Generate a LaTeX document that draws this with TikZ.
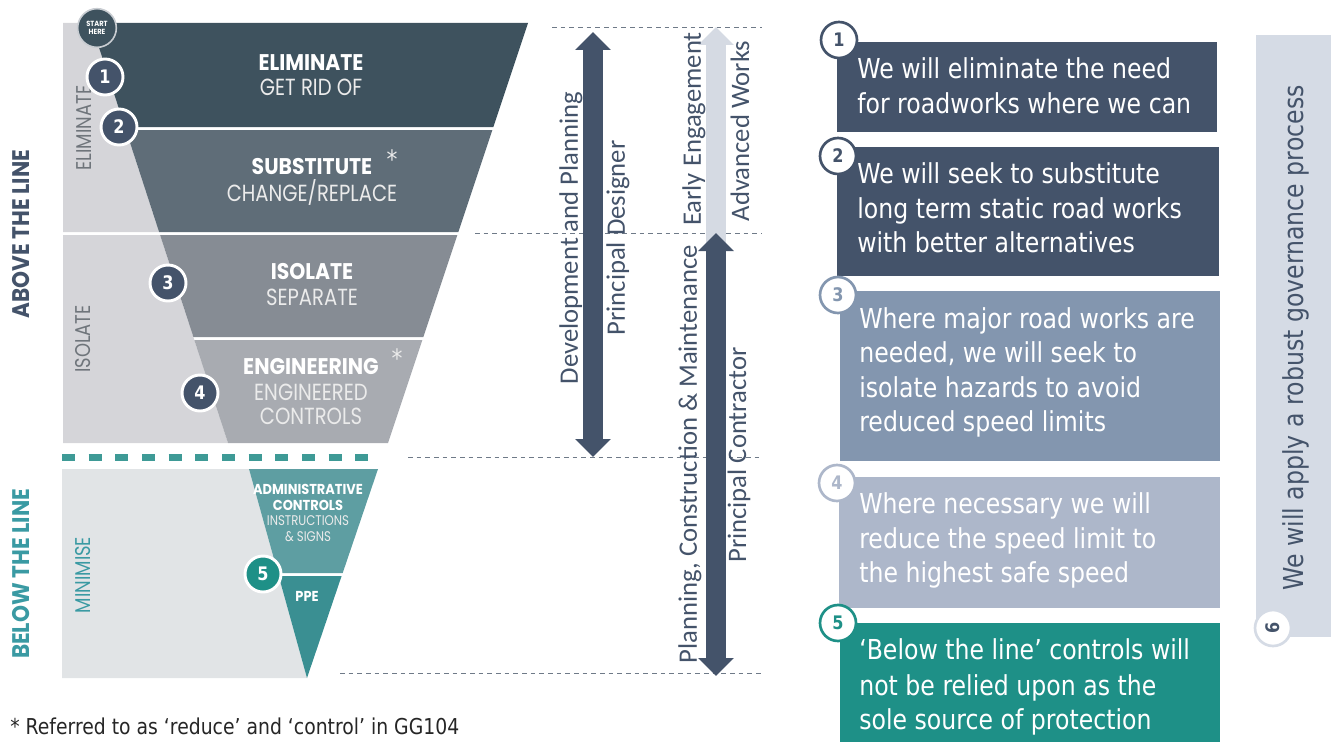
\documentclass[tikz,border=0pt]{standalone}
\usepackage{fontspec}
\setmainfont{DejaVu Sans}[FakeStretch=0.86]
\newfontfamily\geo{Poppins}[FakeStretch=0.84,BoldFeatures={FakeStretch=0.9}]
\newfontfamily\carl{Carlito}
\usetikzlibrary{arrows.meta}

\definecolor{elim}{HTML}{3E525E}
\definecolor{subs}{HTML}{5F6D78}
\definecolor{isol}{HTML}{868C94}
\definecolor{engi}{HTML}{A8ABB1}
\definecolor{graybg}{HTML}{D5D5D9}
\definecolor{graylow}{HTML}{E1E4E6}
\definecolor{admin}{HTML}{5E9EA2}
\definecolor{ppe}{HTML}{3A8F92}
\definecolor{tealdash}{HTML}{3E9A96}
\definecolor{tealtxt}{HTML}{3A9AA3}
\definecolor{navy}{HTML}{44536A}
\definecolor{sidegray}{HTML}{6F757B}
\definecolor{guidegray}{HTML}{6F7A88}
\definecolor{boxthree}{HTML}{8396AF}
\definecolor{boxfour}{HTML}{ADB7CA}
\definecolor{boxfive}{HTML}{1E9087}
\definecolor{barsix}{HTML}{D5DBE5}
\definecolor{lightarr}{HTML}{D5DAE3}
\definecolor{ringgray}{HTML}{C9CDD2}

\tikzset{
  numdark/.style={circle, fill=navy, draw=white, line width=2.2pt, minimum size=27pt,
    inner sep=0pt, text=white, font=\fontsize{14}{14}\selectfont\bfseries},
  numring/.style={circle, fill=white, line width=2pt, minimum size=27pt,
    inner sep=0pt, font=\fontsize{14}{14}\selectfont\bfseries},
  boxtxt/.style={anchor=base west, inner sep=0pt, text=white,
    font=\fontsize{20.6}{24}\selectfont},
  bandbold/.style={inner sep=0pt, text=white, font=\geo\fontsize{17}{17}\selectfont\bfseries},
  bandlight/.style={inner sep=0pt, text=white!92!black, font=\geo\fontsize{17.5}{17.5}\selectfont},
  smallbold/.style={bandbold, font=\geo\fontsize{10.8}{10.8}\selectfont\bfseries},
  smalllight/.style={bandlight, font=\geo\fontsize{10.5}{10.5}\selectfont},
  star/.style={bandlight, font=\fontsize{19}{19}\selectfont},
  sidelabel/.style={rotate=90, inner sep=0pt, text=sidegray, font=\geo\fontsize{16}{16}\selectfont},
  linelabel/.style={rotate=90, inner sep=0pt, font=\geo\fontsize{18}{18}\selectfont\bfseries},
  phaselabel/.style={rotate=90, inner sep=0pt, text=navy, font=\carl\fontsize{20}{20}\selectfont},
  guide/.style={draw=guidegray, line width=0.6pt, dash pattern=on 3.5pt off 3pt},
  phase/.style={line width=15pt},
  tipA/.tip={Triangle[length=13.5pt,width=26pt]}
}

\begin{document}
\begin{tikzpicture}[x=0.75pt,y=-0.75pt]
\useasboundingbox (0,0) rectangle (1333,742);

% grey side panels behind the funnel
\fill[graybg] (63,23) -- (91,23) -- (159.1,232) -- (63,232) -- cycle;
\fill[graybg] (63,235) -- (160.1,235) -- (228,443) -- (63,443) -- cycle;
\fill[graylow] (62,469) -- (249,469) -- (307,678) -- (62,678) -- cycle;

% funnel bands (above the line)
\fill[elim] (91,23) -- (528,23) -- (493.4,127) -- (124.9,127) -- cycle;
\fill[subs] (125.9,130) -- (492.4,130) -- (458.4,232) -- (159.1,232) -- cycle;
\fill[isol] (160.1,235) -- (457.4,235) -- (423.4,337) -- (193.4,337) -- cycle;
\fill[engi] (194.3,340) -- (422.4,340) -- (388,443) -- (228,443) -- cycle;

% funnel tip (below the line)
\fill[admin] (249,469) -- (378,469) -- (342.7,573) -- (277.9,573) -- cycle;
\fill[ppe] (278.7,576) -- (341.6,576) -- (307,678) -- cycle;

% the line
\draw[tealdash, line width=5.25pt, dash pattern=on 9.75pt off 10.25pt] (62,457) -- (380,457);

% band texts
\node[bandbold] (tEl) at (311,63) {ELIMINATE};
\node[bandlight] (tEl2) at (311,87) {GET RID OF};
\node[bandbold] (tSu) at (312,167) {SUBSTITUTE};
\node[star] (tSuA) at (392,159) {*};
\node[bandlight] (tSu2) at (312,192) {CHANGE/REPLACE};
\node[bandbold] (tIs) at (312,272) {ISOLATE};
\node[bandlight] (tIs2) at (312,297) {SEPARATE};
\node[bandbold] (tEn) at (311,367) {ENGINEERING};
\node[star] (tEnA) at (397,358) {*};
\node[bandlight] (tEn2) at (311,392) {ENGINEERED};
\node[bandlight] (tEn3) at (311,416) {CONTROLS};
\node[smallbold] (tAd1) at (308,489) {ADMINISTRATIVE};
\node[smallbold] (tAd2) at (308,505) {CONTROLS};
\node[smalllight] (tAd3) at (308,521) {INSTRUCTIONS};
\node[smalllight] (tAd4) at (308,537) {\& SIGNS};
\node[smallbold] (tPpe) at (307,596) {PPE};

% side labels
\node[sidelabel] (sEl) at (84,128) {ELIMINATE};
\node[sidelabel] (sIs) at (83,339) {ISOLATE};
\node[sidelabel, text=tealtxt] (sMi) at (83,575) {MINIMISE};
\node[linelabel, text=navy] (above) at (21,234) {ABOVE THE LINE};
\node[linelabel, text=tealtxt] (below) at (21,574) {BELOW THE LINE};

% number circles on the funnel
\node[circle, fill=elim, draw=ringgray, line width=1.2pt, minimum size=29pt, inner sep=0pt,
  text=white, align=center, font=\geo\fontsize{5.6}{6.4}\selectfont\bfseries] (start) at (97,28) {START\\HERE};
\node[numdark] (c1) at (105,77) {1};
\node[numdark] (c2) at (119,127) {2};
\node[numdark] (c3) at (168,283) {3};
\node[numdark] (c4) at (200,393) {4};
\node[numdark, fill=boxfive] (c5) at (263,574) {5};

% phase guide lines
\coordinate (g1a) at (552,27);  \coordinate (g1b) at (762,27);
\coordinate (g2a) at (475,233); \coordinate (g2b) at (762,233);
\coordinate (g3a) at (408,457); \coordinate (g3b) at (762,457);
\coordinate (g4a) at (340,673); \coordinate (g4b) at (762,673);
\draw[guide] (g1a) -- (g1b);
\draw[guide] (g2a) -- (g2b);
\draw[guide] (g3a) -- (g3b);
\draw[guide] (g4a) -- (g4b);

% phase arrows
\coordinate (dpT) at (593,32);  \coordinate (dpB) at (593,457);
\coordinate (eeT) at (716,27);  \coordinate (eeB) at (716,246);
\coordinate (pcT) at (716,233); \coordinate (pcB) at (716,676);
\draw[phase, draw=navy, tipA-tipA] (dpT) -- (dpB);
\draw[phase, draw=lightarr, -tipA] (eeB) -- (eeT);
\draw[phase, draw=navy, tipA-tipA] (pcT) -- (pcB);

\node[phaselabel] (lDev) at (571,238) {Development and Planning};
\node[phaselabel] (lPD) at (618,238) {Principal Designer};
\node[phaselabel] (lEE) at (694,129) {Early Engagement};
\node[phaselabel] (lAW) at (740,131) {Advanced Works};
\node[phaselabel] (lPCM) at (690,454) {Planning, Construction \& Maintenance};
\node[phaselabel] (lPC) at (739,455) {Principal Contractor};

% commitment boxes
\fill[navy] (837,42) rectangle (1217,132);
\fill[navy] (837,147) rectangle (1219,276);
\fill[boxthree] (840,291) rectangle (1220,461);
\fill[boxfour] (839,477) rectangle (1220,608);
\fill[boxfive] (840,623) rectangle (1220,742);

\node[boxtxt] (b1a) at (857,79) {We will eliminate the need};
\node[boxtxt] (b1b) at (857,113) {for roadworks where we can};
\node[boxtxt] (b2a) at (857,183) {We will seek to substitute};
\node[boxtxt] (b2b) at (857,218) {long term static road works};
\node[boxtxt] (b2c) at (857,252) {with better alternatives};
\node[boxtxt] (b3a) at (859,328) {Where major road works are};
\node[boxtxt] (b3b) at (859,362) {needed, we will seek to};
\node[boxtxt] (b3c) at (859,397) {isolate hazards to avoid};
\node[boxtxt] (b3d) at (859,431) {reduced speed limits};
\node[boxtxt] (b4a) at (859,513) {Where necessary we will};
\node[boxtxt] (b4b) at (859,548) {reduce the speed limit to};
\node[boxtxt] (b4c) at (859,582) {the highest safe speed};
\node[boxtxt] (b5a) at (859,659) {‘Below the line’ controls will};
\node[boxtxt] (b5b) at (859,695) {not be relied upon as the};
\node[boxtxt] (b5c) at (859,729) {sole source of protection};

\node[numring, draw=navy, text=navy] (r1) at (839,40) {1};
\node[numring, draw=navy, text=navy] (r2) at (838,156) {2};
\node[numring, draw=boxthree, text=boxthree] (r3) at (838,295) {3};
\node[numring, draw=boxfour, text=boxfour] (r4) at (837,483) {4};
\node[numring, draw=boxfive, text=boxfive] (r5) at (838,623) {5};

% governance bar
\fill[barsix] (1256,35) rectangle (1331,637);
\node[rotate=90, anchor=base, inner sep=0pt, text=navy, font=\fontsize{20.6}{24}\selectfont]
  (gov) at (1303,338) {We will apply a robust governance process};
\node[numring, draw=barsix, text=navy, rotate=90] (r6) at (1273,628) {6};

% footnote
\node[anchor=base west, inner sep=0pt, text=black!85, font=\fontsize{16.4}{18}\selectfont]
  (note) at (10,734) {* Referred to as ‘reduce’ and ‘control’ in GG104};
\end{tikzpicture}
\end{document}
